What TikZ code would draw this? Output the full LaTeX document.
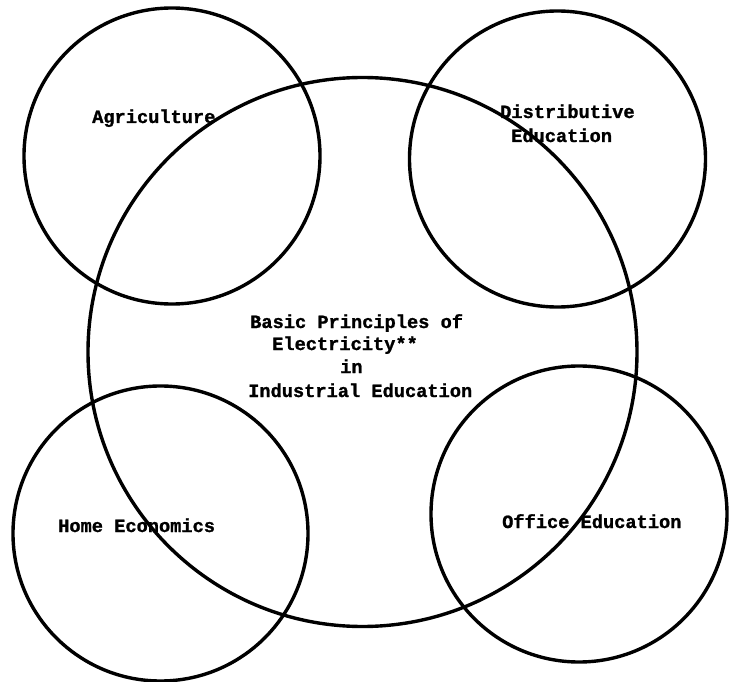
\documentclass[tikz,border=0pt]{standalone}
\usepackage{fontspec}
\setmonofont[BoldFeatures={FakeBold=1.2}]{Liberation Mono}
\begin{document}
\begin{tikzpicture}[x=1pt,y=-1pt,
  ring/.style={draw=black, line width=3.4pt, circle, inner sep=0pt, minimum size=#1},
  lbl/.style={font=\ttfamily\bfseries\fontsize{18.67}{23}\selectfont, inner sep=0pt, anchor=base west, text=black}]
\useasboundingbox (0,0) rectangle (729,682);
% circles
\node[ring=549pt] (core) at (362.5,352) {};
\node[ring=296pt] (agri) at (172,156) {};
\node[ring=296pt] (dist) at (557.5,159) {};
\node[ring=295pt] (home) at (160.5,533.5) {};
\node[ring=296pt] (office) at (579,514) {};
% labels
\node[lbl] (agrit) at (92,123) {Agriculture};
\node[lbl] (distt1) at (500,118) {Distributive};
\node[lbl] (distt2) at (511,142) {Education};
\node[lbl] (coret1) at (250,328) {Basic Principles of};
\node[lbl] (coret2) at (272,350) {Electricity**};
\node[lbl] (coret3) at (340,373) {in};
\node[lbl] (coret4) at (248,397) {Industrial Education};
\node[lbl] (homet) at (58,532) {Home Economics};
\node[lbl] (officet) at (502,528) {Office Education};
\end{tikzpicture}
\end{document}
